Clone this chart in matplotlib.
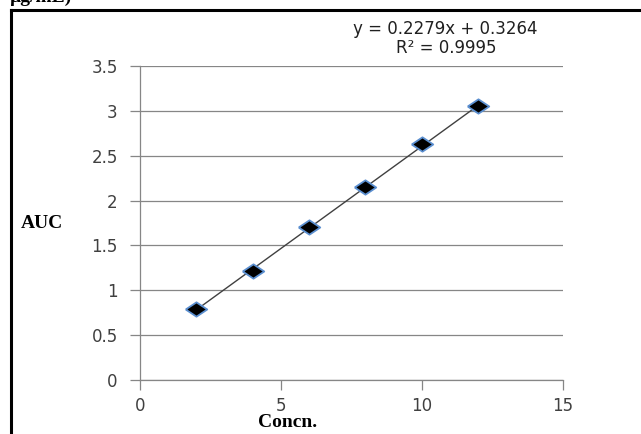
import matplotlib.pyplot as plt
from matplotlib.lines import Line2D

# Calibration data
concn = [2, 4, 6, 8, 10, 12]
auc = [0.79, 1.22, 1.71, 2.15, 2.63, 3.05]

# Linear trendline shown on the chart
slope = 0.2279
intercept = 0.3264
r_squared = 0.9995

x_ticks = [0, 5, 10, 15]
y_ticks = [0, 0.5, 1, 1.5, 2, 2.5, 3, 3.5]
y_tick_labels = ["0", "0.5", "1", "1.5", "2", "2.5", "3", "3.5"]

fig = plt.figure(figsize=(6.41, 4.34), dpi=100)
ax = fig.add_axes([0.2184, 0.1244, 0.6596, 0.7236])

grey = "#868686"
text_grey = "#404040"

# horizontal gridlines
ax.set_axisbelow(True)
ax.yaxis.grid(True, color=grey, linewidth=0.9)

# trendline across the data range
x_line = [min(concn), max(concn)]
y_line = [slope * x + intercept for x in x_line]
ax.plot(x_line, y_line, color="#404040", linewidth=1.0, zorder=2)

# data points: flattened diamonds like the Excel marker
diamond = [(-1.5, 0), (0, 1), (1.5, 0), (0, -1), (-1.5, 0)]
ax.plot(concn, auc, linestyle="none", marker=diamond, markersize=15.5,
        markerfacecolor="black", markeredgecolor="#5b8fd0",
        markeredgewidth=1.3, zorder=3)

ax.set_xlim(0, 15)
ax.set_ylim(0, 3.5)
ax.set_xticks(x_ticks)
ax.set_yticks(y_ticks)
ax.set_yticklabels(y_tick_labels)

for side in ["top", "right"]:
    ax.spines[side].set_visible(False)
for side in ["left", "bottom"]:
    ax.spines[side].set_color(grey)
    ax.spines[side].set_linewidth(0.9)

ax.tick_params(axis="both", direction="out", length=7, width=0.9,
               color=grey, labelcolor=text_grey, labelsize=12)
ax.tick_params(axis="y", pad=9)
ax.tick_params(axis="x", pad=5)

# axis titles (bold serif, horizontal)
fig.text(21 / 641, 1 - 224 / 434, "AUC", fontfamily="Liberation Serif",
         fontweight="bold", fontsize=14, ha="left", va="center")
fig.text(288 / 641, 1 - 427 / 434, "Concn.", fontfamily="Liberation Serif",
         fontweight="bold", fontsize=14, ha="center", va="baseline")

# trendline equation
fig.text(445 / 641, 1 - 29 / 434, "y = %.4fx + %.4f" % (slope, intercept),
         fontsize=12, color="#202020", ha="center", va="center")
fig.text(446 / 641, 1 - 48 / 434, "R² = %.4f" % r_squared,
         fontsize=12, color="#202020", ha="center", va="center")

# cropped caption text at the very top
fig.text(10 / 641, 1 - 2 / 434, "µg/mL)", fontfamily="Liberation Serif",
         fontweight="bold", fontsize=14, ha="left", va="baseline")

# black frame lines of the original figure (left and top)
fig.add_artist(Line2D([11 / 641, 11 / 641], [0, 1 - 10 / 434],
                      transform=fig.transFigure, color="black", linewidth=2.2))
fig.add_artist(Line2D([11 / 641, 1], [1 - 10 / 434, 1 - 10 / 434],
                      transform=fig.transFigure, color="black", linewidth=2.2))

fig.savefig("out.png", dpi=100)
